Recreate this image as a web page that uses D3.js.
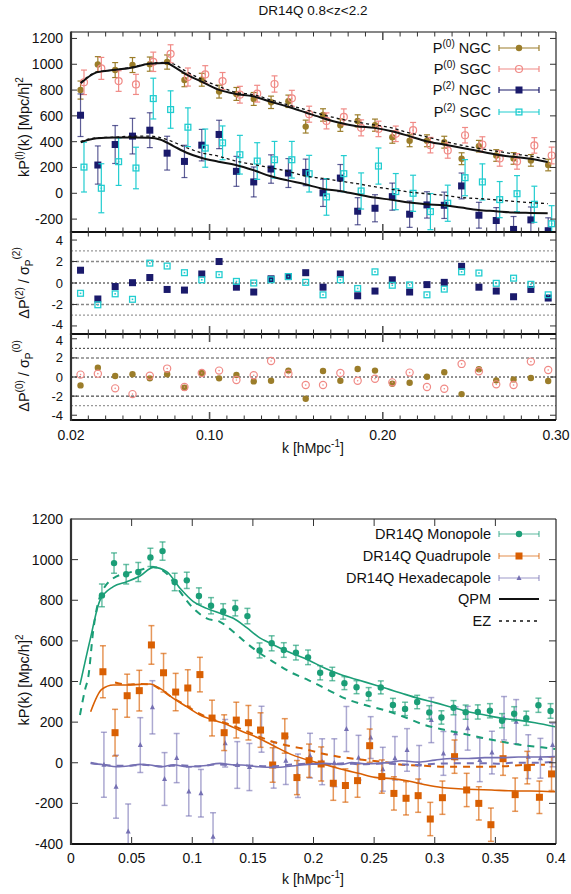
<!DOCTYPE html>
<html>
<head>
<meta charset="utf-8">
<script src="https://cdn.jsdelivr.net/npm/d3@7"></script>
<style>
  body { margin: 0; background: #fff; }
  svg text { font-family: "Liberation Sans", Arial, Helvetica, sans-serif; fill: #111; }
</style>
</head>
<body>
<svg id="chart" width="571" height="894"></svg>
<script>
// ---------------- upper figure: NGC / SGC multipoles ----------------
const kNgc = [0.0255,0.0355,0.0455,0.0555,0.0655,0.0755,0.0855,0.0955,0.1055,0.1155,0.1255,0.1355,0.1455,0.1555,
              0.1655,0.1755,0.1855,0.1955,0.2055,0.2155,0.2255,0.2355,0.2455,0.2555,0.2655,0.2755,0.2855,0.2955];
const kSgc = [0.0275,0.0375,0.0475,0.0575,0.0675,0.0775,0.0875,0.0975,0.1075,0.1175,0.1275,0.1375,0.1475,0.1575,
              0.1675,0.1775,0.1875,0.1975,0.2075,0.2175,0.2275,0.2375,0.2475,0.2575,0.2675,0.2775,0.2875,0.2975];

const p0Ngc    = [800,999,955,994,1001,1017,878,880,788,770,731,705,713,517,607,528,561,528,435,407,407,396,268,365,293,270,255,219];
const p0NgcErr = [70,60,58,58,55,55,52,50,50,50,50,48,48,50,48,48,47,47,47,46,46,46,46,45,45,45,45,45];
const p0Sgc    = [860,968,870,844,1019,1081,901,921,870,764,772,847,736,613,561,592,507,499,461,489,373,332,450,378,270,247,371,293];
const p0SgcErr = [95,85,80,78,75,70,70,68,66,65,65,63,62,62,62,62,62,60,60,60,60,60,60,60,60,60,60,65];
const p2Ngc    = [605,219,378,443,489,311,247,373,456,170,88,188,157,162,3,118,-139,-116,-26,-162,-90,-93,57,-170,-211,-280,-206,-290];
const p2NgcErr = [165,148,147,138,135,131,125,122,110,116,116,110,112,103,105,105,105,105,105,102,102,102,100,100,100,100,100,100];
const p2Sgc    = [203,39,245,196,734,649,512,350,391,299,250,260,260,152,-28,152,18,211,13,0,-142,-77,121,88,-49,-3,-85,-236];
const p2SgcErr = [193,190,184,161,158,145,150,148,131,150,142,142,142,142,142,140,140,140,140,140,140,140,140,140,140,140,140,140];

// normalised residuals (data - model) / sigma
const r2Ngc = [1.19,-1.49,-0.33,0.03,0.51,-0.6,-0.66,0.84,2.0,-0.39,-0.84,0.39,0.6,0.96,-0.39,0.84,-1.19,-0.75,0.3,-0.84,-0.15,0.06,1.55,-0.39,-0.75,-1.28,-0.6,-1.4];
const r2Sgc = [-0.96,-2.03,-1.01,-1.52,1.85,1.58,0.96,0.3,0.78,0.15,0.0,0.3,0.6,0.06,-1.1,0.3,-0.51,1.04,-0.21,-0.18,-1.1,-0.57,1.04,0.93,-0.03,0.45,-0.12,-1.1];
const r0Ngc = [-0.88,0.98,0.1,0.28,-0.14,0.28,-1.12,0.42,-0.14,0.21,-0.46,-0.39,0.67,-2.28,0.63,-0.39,0.84,0.67,-0.7,-0.6,0.03,0.49,-1.79,0.81,-0.35,-0.25,-0.1,-0.42];
const r0Sgc = [0.25,0.35,-1.19,-1.79,0.14,0.88,-1.05,0.42,0.67,-0.32,0.18,1.68,0.35,-0.84,-0.84,0.42,-0.39,-0.18,-0.56,0.46,-1.05,-1.23,1.37,0.6,-0.77,-0.84,1.61,0.74];

// model curves [k, kP]
const p0Model = [[0.0256,852],[0.0348,937],[0.0454,957],[0.056,975],[0.0652,1004],[0.0752,1009],[0.0791,983],[0.0868,919],
  [0.0951,867],[0.1051,803],[0.1151,770],[0.1251,752],[0.1349,711],[0.1449,672],[0.1551,628],[0.1651,584],[0.1751,546],
  [0.1851,520],[0.1951,507],[0.2052,481],[0.2152,443],[0.2251,404],[0.2352,378],[0.2452,353],[0.2552,327],[0.2652,301],
  [0.2752,283],[0.2852,268],[0.2952,242]];
const p0ModelAlt = [[0.0256,858],[0.0348,940],[0.0454,956],[0.056,980],[0.0652,1006],[0.0752,1014],[0.0791,1002],[0.0868,942],
  [0.0951,885],[0.1051,830],[0.1151,782],[0.1251,765],[0.1349,726],[0.1449,687],[0.1551,649],[0.1651,610],[0.1751,577],
  [0.1851,551],[0.1951,530],[0.2052,507],[0.2152,468],[0.2251,438],[0.2352,404],[0.2452,373],[0.2552,348],[0.2652,327],
  [0.2752,306],[0.2852,288],[0.2952,263]];
const p2Model = [[0.0256,396],[0.0348,427],[0.0454,432],[0.056,432],[0.0652,430],[0.0714,417],[0.0791,366],[0.0868,314],
  [0.0951,275],[0.1051,245],[0.1151,219],[0.1251,180],[0.1349,134],[0.1449,100],[0.1551,70],[0.1651,36],[0.1751,18],
  [0.1851,-8],[0.1951,-33],[0.2052,-51],[0.2152,-72],[0.2251,-85],[0.2352,-93],[0.2452,-111],[0.2552,-129],[0.2652,-139],
  [0.2752,-149],[0.2852,-152],[0.2952,-154]];
const p2ModelAlt = [[0.0256,402],[0.0348,430],[0.0454,435],[0.056,443],[0.0652,443],[0.0752,417],[0.0868,353],[0.0951,314],
  [0.1051,288],[0.1151,250],[0.1251,224],[0.1349,198],[0.1449,172],[0.1551,134],[0.1651,116],[0.1751,95],[0.1851,75],
  [0.1951,51],[0.2052,31],[0.2152,10],[0.2251,-3],[0.2352,-15],[0.2452,-33],[0.2552,-41],[0.2652,-51],[0.2752,-62],
  [0.2852,-72],[0.2952,-80]];

const topYTicks = [-200,0,200,400,600,800,1000,1200];
const resYTicks = [-4,-2,0,2,4];
const topXTickLabels = ["0.02","0.10","0.20","0.30"];

// ---------------- lower figure: combined multipoles ----------------
const kBins = [0.0255,0.0355,0.0455,0.0555,0.0655,0.0755,0.0855,0.0955,0.1055,0.1155,0.1255,0.1355,0.1455,0.1555,
  0.1655,0.1755,0.1855,0.1955,0.2055,0.2155,0.2255,0.2355,0.2455,0.2555,0.2655,0.2755,0.2855,0.2955,0.3055,0.3155,
  0.3255,0.3355,0.3455,0.3555,0.3655,0.3755,0.3855,0.3955];
const mono    = [824,983,928,939,1011,1042,890,898,821,773,745,761,722,553,588,555,542,519,443,437,392,372,338,371,
                 284,265,299,248,223,271,249,250,256,207,241,219,283,255];
const monoErr = [56,50,48,47,45,45,43,40,40,40,38,38,38,37,37,36,36,36,35,33,32,32,32,32,33,33,33,33,33,35,35,35,35,35,35,35,35,36];
const quad    = [448,148,330,355,580,443,348,368,434,220,148,210,197,161,-11,132,-73,10,-6,-101,-112,-88,84,-68,
                 -151,-175,-162,-277,-172,30,-134,-200,-305,20,-157,-24,-170,-55];
const quadErr = [128,115,106,100,95,95,92,90,85,88,88,88,85,85,85,85,84,82,84,84,82,82,82,82,82,82,82,82,82,82,82,82,82,82,82,80,80,82];
const hexa    = [-10,-118,-339,87,273,-80,23,-142,-150,-364,96,-11,-21,165,-11,10,-64,35,5,0,166,25,124,-32,
                 22,63,-8,210,46,145,170,14,50,219,202,30,22,87];
const hexaErr = [160,155,136,135,131,130,121,120,117,118,117,115,116,113,114,117,107,110,113,118,111,110,103,108,
                 107,105,93,111,108,130,108,107,105,107,109,108,98,107];

const monoQpm = [[0.0074,383],[0.0157,604],[0.024,801],[0.0349,867],[0.046,891],[0.0569,919],[0.0679,962],[0.0789,941],
  [0.0899,859],[0.1009,793],[0.1119,760],[0.1229,736],[0.1339,711],[0.1449,665],[0.1545,620],[0.1655,585],[0.182,539],
  [0.1957,506],[0.2095,465],[0.2233,432],[0.237,407],[0.2507,383],[0.2631,360],[0.2727,342],[0.2865,317],[0.3002,296],
  [0.314,273],[0.3277,251],[0.3414,235],[0.3552,219],[0.3689,210],[0.3827,197],[0.3992,177]];
const monoEz = [[0.0074,235],[0.0115,358],[0.0143,424],[0.0184,654],[0.0239,818],[0.0349,908],[0.0459,933],[0.0569,949],
  [0.0679,964],[0.0789,931],[0.0899,842],[0.1009,760],[0.1119,711],[0.1229,694],[0.1339,645],[0.1449,588],[0.1559,539],
  [0.1668,497],[0.182,443],[0.1957,407],[0.2122,358],[0.226,317],[0.2425,284],[0.259,258],[0.2755,224],[0.2892,191],
  [0.3057,165],[0.3222,145],[0.3387,123],[0.3552,104],[0.3717,87],[0.3882,76],[0.3992,68]];
const quadQpm = [[0.0162,251],[0.0253,361],[0.0349,383],[0.0459,383],[0.0569,386],[0.0652,388],[0.0734,366],[0.0844,317],
  [0.0954,276],[0.1064,235],[0.1174,210],[0.127,192],[0.1408,155],[0.1545,122],[0.1682,80],[0.182,40],[0.1957,12],
  [0.2095,-10],[0.2233,-32],[0.237,-52],[0.2507,-72],[0.2645,-78],[0.2782,-90],[0.292,-108],[0.3057,-122],[0.3195,-128],
  [0.3332,-132],[0.347,-134],[0.3607,-138],[0.3745,-139],[0.3882,-140],[0.3992,-143]];
const quadEz = [[0.0363,395],[0.0459,385],[0.0569,388],[0.0652,386],[0.0734,362],[0.0844,318],[0.0954,280],[0.1064,240],
  [0.1174,212],[0.127,196],[0.1408,165],[0.1545,130],[0.1682,100],[0.1765,87],[0.1903,71],[0.2068,46],[0.2205,30],
  [0.237,17],[0.2562,5],[0.2755,-11],[0.292,-15],[0.3085,-20],[0.325,-20],[0.3414,-20],[0.3579,-17],[0.3744,-11],[0.3909,-10]];
const hexaQpm = [[0.0162,-3],[0.0267,-10],[0.0377,-20],[0.0487,-15],[0.0569,-8],[0.0652,-11],[0.0748,-20],[0.0844,-10],
  [0.0954,-20],[0.1091,-15],[0.1229,-3],[0.1353,-11],[0.1408,-11],[0.1545,-20],[0.1682,-23],[0.182,-16],[0.1957,-8],
  [0.2095,-3],[0.2233,-8],[0.2315,1],[0.2425,-5],[0.2534,-3],[0.2631,2],[0.2727,10],[0.2865,3],[0.3002,13],[0.314,21],
  [0.3277,21],[0.3414,25],[0.3552,25],[0.3689,28],[0.3827,28],[0.3992,30]];
const hexaEz = [[0.0162,0],[0.03,-12],[0.045,-15],[0.06,-10],[0.075,-18],[0.09,-12],[0.105,-18],[0.12,-8],[0.135,-12],
  [0.15,-15],[0.165,-18],[0.18,-10],[0.195,-5],[0.21,-8],[0.225,-3],[0.24,-8],[0.259,-3],[0.2727,-8],[0.2865,-11],
  [0.3002,-5],[0.314,-3],[0.3277,-3],[0.3414,-3],[0.3552,-5],[0.3634,0],[0.3854,0],[0.3992,5]];

const botXTicks = [0,0.05,0.1,0.15,0.2,0.25,0.3,0.35,0.4];
const botXTickLabels = ["0","0.05","0.1","0.15","0.2","0.25","0.3","0.35","0.4"];
const botYTicks = [-400,-200,0,200,400,600,800,1000,1200];

// ---------------- colours ----------------
const C = {
  p0n: "#9b7d2a", p0s: "#f08a86", p2n: "#1a1a6b", p2s: "#22cdd0",
  mono: "#1b9e77", quad: "#d95f02", hexa: "#7570b3"
};

const svg = d3.select("#chart");
const L = 71, R = 556;
let clipId = 0;

function clipFor(x0, y0, x1, y1) {
  const id = "clip" + (clipId++);
  svg.append("clipPath").attr("id", id).append("rect")
    .attr("x", x0).attr("y", y0).attr("width", x1 - x0).attr("height", y1 - y0);
  return "url(#" + id + ")";
}

function richText(parent, parts, attrs) {
  const t = parent.append("text");
  Object.entries(attrs).forEach(([k, v]) => t.attr(k, v));
  let shift = 0;
  parts.forEach(p => {
    const target = p.s || 0;
    const ts = t.append("tspan").text(p.t).attr("dy", target - shift);
    if (p.f) ts.attr("font-size", p.f);
    shift = target;
  });
  return t;
}

// marker painters
function marker(g, type, cx, cy, color, size) {
  if (type === "dot") {
    g.append("circle").attr("cx", cx).attr("cy", cy).attr("r", size).attr("fill", color);
  } else if (type === "ring") {
    g.append("circle").attr("cx", cx).attr("cy", cy).attr("r", size).attr("fill", "none")
      .attr("stroke", color).attr("stroke-width", 1.2);
    g.append("circle").attr("cx", cx).attr("cy", cy).attr("r", 0.8).attr("fill", color);
  } else if (type === "square") {
    g.append("rect").attr("x", cx - size / 2).attr("y", cy - size / 2).attr("width", size).attr("height", size)
      .attr("fill", color);
  } else if (type === "box") {
    g.append("rect").attr("x", cx - size / 2 + 0.6).attr("y", cy - size / 2 + 0.6)
      .attr("width", size - 1.2).attr("height", size - 1.2)
      .attr("fill", "none").attr("stroke", color).attr("stroke-width", 1.3);
    g.append("rect").attr("x", cx - 0.8).attr("y", cy - 0.8).attr("width", 1.6).attr("height", 1.6).attr("fill", color);
  } else if (type === "tri") {
    const h = size;
    g.append("path").attr("d", `M${cx},${cy - h * 0.6}L${cx + h * 0.5},${cy + h * 0.4}L${cx - h * 0.5},${cy + h * 0.4}Z`)
      .attr("fill", color);
  }
}

function errSeries(g, ks, vals, errs, x, y, color, opts) {
  const cap = opts.cap || 3;
  const dx = opts.dx || 0;
  ks.forEach((k, i) => {
    const cx = x(k) + dx;
    const yl = y(vals[i] - errs[i]), yh = y(vals[i] + errs[i]);
    const eg = g.append("g").attr("stroke", opts.errColor || color).attr("stroke-opacity", opts.errOpacity || 1)
      .attr("stroke-width", opts.errWidth || 1.2);
    eg.append("line").attr("x1", cx).attr("x2", cx).attr("y1", yl).attr("y2", yh);
    eg.append("line").attr("x1", cx - cap).attr("x2", cx + cap).attr("y1", yl).attr("y2", yl);
    eg.append("line").attr("x1", cx - cap).attr("x2", cx + cap).attr("y1", yh).attr("y2", yh);
  });
  ks.forEach((k, i) => marker(g, opts.type, x(k) + dx, y(vals[i]), color, opts.size));
}

function curve(g, pts, x, y, color, width, dash) {
  const line = d3.line().x(d => x(d[0])).y(d => y(d[1])).curve(d3.curveMonotoneX);
  const p = g.append("path").attr("d", line(pts)).attr("fill", "none")
    .attr("stroke", color).attr("stroke-width", width).attr("stroke-linejoin", "round");
  if (dash) p.attr("stroke-dasharray", dash);
}

function frame(y0, y1, thickBottom, thickTop) {
  const g = svg.append("g");
  g.append("line").attr("x1", L).attr("x2", R).attr("y1", y0).attr("y2", y0)
    .attr("stroke", "#111").attr("stroke-width", thickTop ? 2 : 1.1);
  g.append("line").attr("x1", R).attr("x2", R).attr("y1", y0).attr("y2", y1)
    .attr("stroke", "#111").attr("stroke-width", 1.1);
  g.append("line").attr("x1", L).attr("x2", R).attr("y1", y1).attr("y2", y1)
    .attr("stroke", "#111").attr("stroke-width", thickBottom ? 2 : 1.1);
  g.append("line").attr("x1", L).attr("x2", L).attr("y1", y0 - 0.5).attr("y2", y1 + 1)
    .attr("stroke", "#333").attr("stroke-width", 2.2);
}

function yTicksBoth(vals, y, len) {
  const g = svg.append("g").attr("stroke", "#333").attr("stroke-width", 1);
  vals.forEach(v => {
    g.append("line").attr("x1", L).attr("x2", L + len).attr("y1", y(v)).attr("y2", y(v));
    g.append("line").attr("x1", R - len).attr("x2", R).attr("y1", y(v)).attr("y2", y(v));
  });
}

function kTicksTop(x, y0, y1) {
  const g = svg.append("g");
  const minor = d3.range(3, 30).map(i => i / 100);
  minor.forEach(k => {
    const major = Math.abs(k - 0.1) < 1e-9 || Math.abs(k - 0.2) < 1e-9;
    const len = major ? 8 : 4.5;
    const col = major ? "#555" : "#333";
    const w = major ? 1.6 : 1;
    g.append("line").attr("x1", x(k)).attr("x2", x(k)).attr("y1", y0).attr("y2", y0 + len)
      .attr("stroke", col).attr("stroke-width", w);
    g.append("line").attr("x1", x(k)).attr("x2", x(k)).attr("y1", y1).attr("y2", y1 - len)
      .attr("stroke", col).attr("stroke-width", w);
  });
}

// ======================= upper figure =======================
const xTop = d3.scaleLinear().domain([0.02, 0.30]).range([L, R]);
const yP  = d3.scaleLinear().domain([-300, 1250]).range([232, 32]);
const yR2 = d3.scaleLinear().domain([-4.75, 4.75]).range([334, 232]);
const yR0 = d3.scaleLinear().domain([-4.5, 4.5]).range([420, 334]);

svg.append("text").attr("x", 313).attr("y", 15).attr("text-anchor", "middle").attr("font-size", 13.5)
  .text("DR14Q 0.8<z<2.2");

// main multipole panel
{
  const g = svg.append("g").attr("clip-path", clipFor(L, 32, R, 232));
  errSeries(g, kNgc, p0Ngc, p0NgcErr, xTop, yP, C.p0n, { type: "dot", size: 3.2, cap: 3 });
  errSeries(g, kSgc, p0Sgc, p0SgcErr, xTop, yP, C.p0s, { type: "ring", size: 3.5, cap: 3 });
  errSeries(g, kNgc, p2Ngc, p2NgcErr, xTop, yP, C.p2n, { type: "square", size: 7, cap: 3, errOpacity: 0.7 });
  errSeries(g, kSgc, p2Sgc, p2SgcErr, xTop, yP, C.p2s, { type: "box", size: 7, cap: 3 });
  curve(g, p0ModelAlt, xTop, yP, "#111", 1.3, "3,3");
  curve(g, p2ModelAlt, xTop, yP, "#111", 1.3, "3,3");
  curve(g, p0Model, xTop, yP, "#111", 2, null);
  curve(g, p2Model, xTop, yP, "#111", 2, null);
}

// residual panels
function refLines(yScale, styles) {
  const g = svg.append("g");
  styles.forEach(s => {
    g.append("line").attr("x1", L).attr("x2", R).attr("y1", yScale(s.v)).attr("y2", yScale(s.v))
      .attr("stroke", s.c).attr("stroke-width", s.w).attr("stroke-dasharray", s.d);
  });
}
refLines(yR2, [
  { v: 3, c: "#999", w: 1.2, d: "2,2" }, { v: 2, c: "#888", w: 1.5, d: "3,2" },
  { v: 0, c: "#222", w: 1, d: "2,2" }, { v: -2, c: "#888", w: 1.5, d: "3,2" }, { v: -3, c: "#999", w: 1.2, d: "2,2" }
]);
refLines(yR0, [
  { v: 3, c: "#333", w: 1, d: "2,2" }, { v: 2, c: "#888", w: 1.5, d: "3,2" },
  { v: 0, c: "#222", w: 1, d: "2,2" }, { v: -2, c: "#222", w: 1, d: "3,2" }, { v: -3, c: "#999", w: 1.2, d: "2,2" }
]);
{
  const g2 = svg.append("g").attr("clip-path", clipFor(L, 232, R, 334));
  kNgc.forEach((k, i) => marker(g2, "square", xTop(k), yR2(r2Ngc[i]), C.p2n, 7));
  kNgc.forEach((k, i) => marker(g2, "box", xTop(k), yR2(r2Sgc[i]), C.p2s, 7));
  const g0 = svg.append("g").attr("clip-path", clipFor(L, 334, R, 420));
  kNgc.forEach((k, i) => marker(g0, "dot", xTop(k), yR0(r0Ngc[i]), C.p0n, 3.2));
  kNgc.forEach((k, i) => marker(g0, "ring", xTop(k), yR0(r0Sgc[i]), C.p0s, 3.6));
}

// frames and ticks of the upper figure
frame(32, 232, true, false);
frame(232, 334, true, true);
frame(334, 420, true, true);
kTicksTop(xTop, 32, 232);
kTicksTop(xTop, 232, 334);
kTicksTop(xTop, 334, 420);
yTicksBoth(topYTicks, yP, 6);
yTicksBoth(resYTicks, yR2, 6);
yTicksBoth(resYTicks, yR0, 6);

const tickFont = 14;
const labG = svg.append("g").attr("font-size", tickFont);
topYTicks.forEach(v => labG.append("text").attr("x", 63).attr("y", yP(v) + 5).attr("text-anchor", "end").text(v));
// residual tick labels: slightly smaller, the outermost ones nudged apart at the shared border
const resLab = svg.append("g").attr("font-size", 13);
resYTicks.forEach(v => resLab.append("text").attr("x", 63)
  .attr("y", yR2(v) + 4.5 + (v === -4 ? -1.5 : 0)).attr("text-anchor", "end").text(v));
resYTicks.forEach(v => resLab.append("text").attr("x", 63)
  .attr("y", yR0(v) + 4.5 + (v === 4 ? 2.2 : 0)).attr("text-anchor", "end").text(v));
topXTickLabels.forEach(s => labG.append("text").attr("x", xTop(+s)).attr("y", 440).attr("text-anchor", "middle").text(s));

richText(svg, [{ t: "k [hMpc" }, { t: "-1", s: -6, f: 10 }, { t: "]", s: 0 }],
  { x: 313, y: 453, "text-anchor": "middle", "font-size": 14 });

richText(svg, [{ t: "kP" }, { t: "(l)", s: -6, f: 10 }, { t: "(k) [Mpc/h]", s: 0 }, { t: "2", s: -6, f: 10 }],
  { transform: "translate(29,127) rotate(-90)", "text-anchor": "middle", "font-size": 14.5 });
richText(svg, [{ t: "ΔP" }, { t: "(2)", s: -6, f: 10 }, { t: " / σ", s: 0 }, { t: "P", s: 4, f: 10 }, { t: "(2)", s: -9, f: 10 }],
  { transform: "translate(29,283) rotate(-90)", "text-anchor": "middle", "font-size": 14.5 });
richText(svg, [{ t: "ΔP" }, { t: "(0)", s: -6, f: 10 }, { t: " / σ", s: 0 }, { t: "P", s: 4, f: 10 }, { t: "(0)", s: -9, f: 10 }],
  { transform: "translate(29,376) rotate(-90)", "text-anchor": "middle", "font-size": 14.5 });

// legend rows
function legendRow(y, parts, kind, color, size, errOpacity) {
  richText(svg, parts, { x: 491, y: y + 5, "text-anchor": "end", "font-size": 14.5 });
  const g = svg.append("g");
  if (kind === "solid" || kind === "dash") {
    const l = g.append("line").attr("x1", 499).attr("x2", 539).attr("y1", y).attr("y2", y)
      .attr("stroke", "#111").attr("stroke-width", kind === "solid" ? 2 : 1.3);
    if (kind === "dash") l.attr("stroke-dasharray", "3,4");
    return;
  }
  const eg = g.append("g").attr("stroke", color).attr("stroke-width", 1.2).attr("stroke-opacity", errOpacity || 1);
  eg.append("line").attr("x1", 499).attr("x2", 539).attr("y1", y).attr("y2", y);
  eg.append("line").attr("x1", 499).attr("x2", 499).attr("y1", y - 3).attr("y2", y + 3);
  eg.append("line").attr("x1", 539).attr("x2", 539).attr("y1", y - 3).attr("y2", y + 3);
  marker(g, kind, 519, y, color, size);
}
legendRow(48,  [{ t: "P" }, { t: "(0)", s: -6, f: 10 }, { t: " NGC", s: 0 }], "dot", C.p0n, 3.2);
legendRow(69,  [{ t: "P" }, { t: "(0)", s: -6, f: 10 }, { t: " SGC", s: 0 }], "ring", C.p0s, 3.5);
legendRow(90,  [{ t: "P" }, { t: "(2)", s: -6, f: 10 }, { t: " NGC", s: 0 }], "square", C.p2n, 7);
legendRow(112, [{ t: "P" }, { t: "(2)", s: -6, f: 10 }, { t: " SGC", s: 0 }], "box", C.p2s, 7);

// ======================= lower figure =======================
const xB = d3.scaleLinear().domain([0, 0.4]).range([L, R]);
const yB = d3.scaleLinear().domain([-400, 1200]).range([844, 519]);
{
  const g = svg.append("g").attr("clip-path", clipFor(L, 519, R, 844));
  errSeries(g, kBins, hexa, hexaErr, xB, yB, C.hexa, { type: "tri", size: 5, cap: 3, dx: 2, errOpacity: 0.6, errWidth: 1.5 });
  errSeries(g, kBins, quad, quadErr, xB, yB, C.quad, { type: "square", size: 7, cap: 3, dx: 1, errOpacity: 0.65, errWidth: 1.5 });
  errSeries(g, kBins, mono, monoErr, xB, yB, C.mono, { type: "dot", size: 3.2, cap: 3, errOpacity: 0.65, errWidth: 1.5 });
  curve(g, monoEz, xB, yB, C.mono, 2, "7,6");
  curve(g, quadEz, xB, yB, C.quad, 2, "7,6");
  curve(g, hexaEz, xB, yB, C.hexa, 2, "7,6");
  curve(g, monoQpm, xB, yB, C.mono, 1.6, null);
  curve(g, quadQpm, xB, yB, C.quad, 1.6, null);
  curve(g, hexaQpm, xB, yB, C.hexa, 1.6, null);
}
frame(519, 844, true, false);
{
  const g = svg.append("g").attr("stroke", "#333").attr("stroke-width", 1);
  botXTicks.slice(1, -1).forEach(k => {
    g.append("line").attr("x1", xB(k)).attr("x2", xB(k)).attr("y1", 519).attr("y2", 526);
    g.append("line").attr("x1", xB(k)).attr("x2", xB(k)).attr("y1", 844).attr("y2", 837);
  });
}
yTicksBoth(botYTicks.slice(1, -1), yB, 7);
botYTicks.forEach(v => labG.append("text").attr("x", 63).attr("y", yB(v) + 5).attr("text-anchor", "end").text(v));
botXTicks.forEach((k, i) => labG.append("text").attr("x", xB(k)).attr("y", 863).attr("text-anchor", "middle").text(botXTickLabels[i]));

richText(svg, [{ t: "k [hMpc" }, { t: "-1", s: -6, f: 10 }, { t: "]", s: 0 }],
  { x: 313, y: 884, "text-anchor": "middle", "font-size": 14 });
richText(svg, [{ t: "kP(k) [Mpc/h]" }, { t: "2", s: -6, f: 10 }],
  { transform: "translate(29,680) rotate(-90)", "text-anchor": "middle", "font-size": 14.5 });

legendRow(534, [{ t: "DR14Q Monopole" }], "dot", C.mono, 3.2, 0.7);
legendRow(556, [{ t: "DR14Q Quadrupole" }], "square", C.quad, 7, 0.7);
legendRow(578, [{ t: "DR14Q Hexadecapole" }], "tri", C.hexa, 5, 0.7);
legendRow(599, [{ t: "QPM" }], "solid");
legendRow(621, [{ t: "EZ" }], "dash");
</script>
</body>
</html>
